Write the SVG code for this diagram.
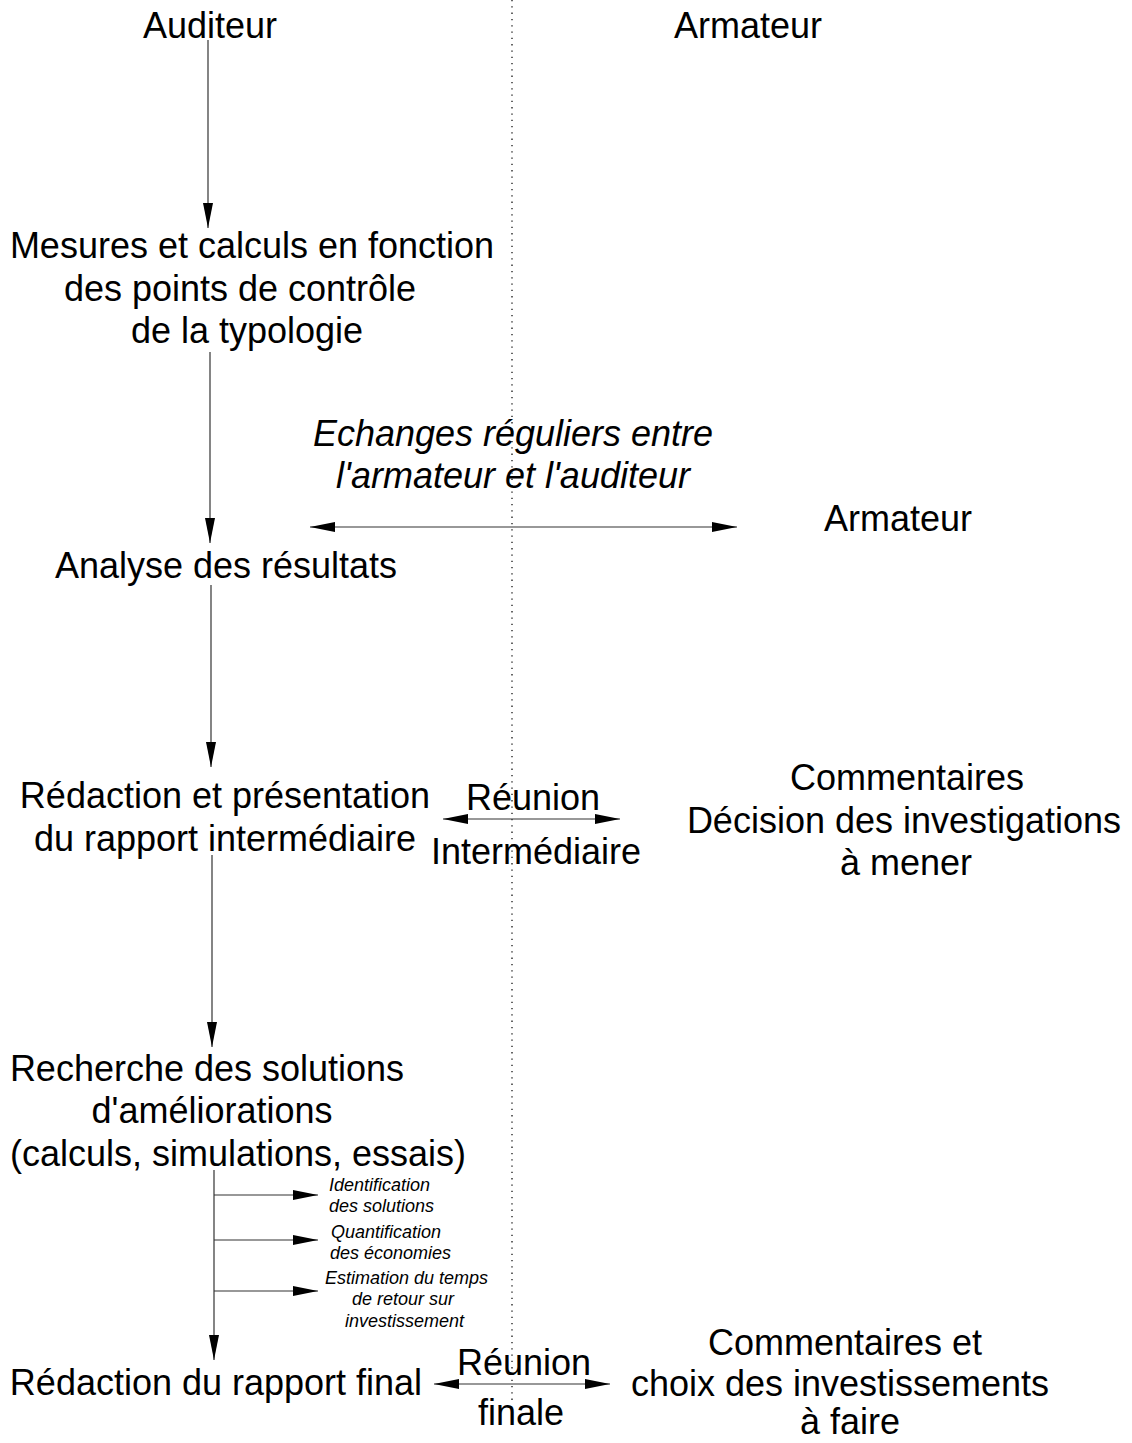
<svg xmlns="http://www.w3.org/2000/svg" width="1132" height="1443" viewBox="0 0 1132 1443">
<style>
.t{font-family:"Liberation Sans",Arial,sans-serif;font-size:36px;fill:#000;text-anchor:middle}
.i{font-style:italic}
.s{font-family:"Liberation Sans",Arial,sans-serif;font-size:18px;font-style:italic;fill:#000}
.ln{stroke:#333;stroke-width:1.2;fill:none}
</style>
<defs>
<marker id="ah" markerWidth="25" markerHeight="10" refX="25" refY="5" orient="auto" markerUnits="userSpaceOnUse">
<path d="M0,0 L25,5 L0,10 z" fill="#000"/>
</marker>
<marker id="as" markerWidth="25" markerHeight="10" refX="0" refY="5" orient="auto" markerUnits="userSpaceOnUse">
<path d="M25,0 L0,5 L25,10 z" fill="#000"/>
</marker>
</defs>
<rect width="1132" height="1443" fill="#fff"/>
<line x1="512" y1="0" x2="512" y2="1402" stroke="#000" stroke-width="1.2" stroke-dasharray="1.3 5"/>
<g id="connectors">
<line class="ln" x1="208" y1="40" x2="208" y2="228" marker-end="url(#ah)"/>
<line class="ln" x1="210" y1="352" x2="210" y2="543" marker-end="url(#ah)"/>
<line class="ln" x1="211" y1="585" x2="211" y2="767" marker-end="url(#ah)"/>
<line class="ln" x1="212" y1="855" x2="212" y2="1047" marker-end="url(#ah)"/>
<line class="ln" x1="214" y1="1170" x2="214" y2="1360" marker-end="url(#ah)"/>
<line class="ln" x1="214" y1="1195" x2="318" y2="1195" marker-end="url(#ah)"/>
<line class="ln" x1="214" y1="1240" x2="318" y2="1240" marker-end="url(#ah)"/>
<line class="ln" x1="214" y1="1291" x2="318" y2="1291" marker-end="url(#ah)"/>
<line class="ln" x1="310" y1="527" x2="737" y2="527" marker-start="url(#as)" marker-end="url(#ah)"/>
<line class="ln" x1="443" y1="819" x2="620" y2="819" marker-start="url(#as)" marker-end="url(#ah)"/>
<line class="ln" x1="434" y1="1384" x2="610" y2="1384" marker-start="url(#as)" marker-end="url(#ah)"/>
</g>
<g id="auditeur"><text class="t" x="210" y="38">Auditeur</text></g>
<g id="armateur-top"><text class="t" x="748" y="38">Armateur</text></g>
<g id="mesures"><text class="t" x="252" y="258">Mesures et calculs en fonction</text><text class="t" x="240" y="301">des points de contrôle</text><text class="t" x="247" y="343">de la typologie</text></g>
<g id="echanges"><text class="t i" x="513" y="446">Echanges réguliers entre</text><text class="t i" x="513" y="488">l'armateur et l'auditeur</text></g>
<g id="armateur"><text class="t" x="898" y="531">Armateur</text></g>
<g id="analyse"><text class="t" x="226" y="578">Analyse des résultats</text></g>
<g id="redaction-inter"><text class="t" x="225" y="808">Rédaction et présentation</text><text class="t" x="225" y="851">du rapport intermédiaire</text></g>
<g id="reunion-inter"><text class="t" x="533" y="810">Réunion</text><text class="t" x="536" y="864">Intermédiaire</text></g>
<g id="commentaires"><text class="t" x="907" y="790">Commentaires</text><text class="t" x="904" y="833">Décision des investigations</text><text class="t" x="906" y="875">à mener</text></g>
<g id="recherche"><text class="t" x="207" y="1081">Recherche des solutions</text><text class="t" x="212" y="1123">d'améliorations</text><text class="t" x="238" y="1166">(calculs, simulations, essais)</text></g>
<g id="identification"><text class="s" x="329" y="1191">Identification</text><text class="s" x="329" y="1212">des solutions</text></g>
<g id="quantification"><text class="s" x="331" y="1238">Quantification</text><text class="s" x="330" y="1259">des économies</text></g>
<g id="estimation"><text class="s" x="325" y="1284">Estimation du temps</text><text class="s" x="352" y="1305">de retour sur</text><text class="s" x="345" y="1327">investissement</text></g>
<g id="redaction-final"><text class="t" x="216" y="1395">Rédaction du rapport final</text></g>
<g id="reunion-finale"><text class="t" x="524" y="1375">Réunion</text><text class="t" x="521" y="1425">finale</text></g>
<g id="commentaires-final"><text class="t" x="845" y="1355">Commentaires et</text><text class="t" x="840" y="1396">choix des investissements</text><text class="t" x="850" y="1434">à faire</text></g>
</svg>
